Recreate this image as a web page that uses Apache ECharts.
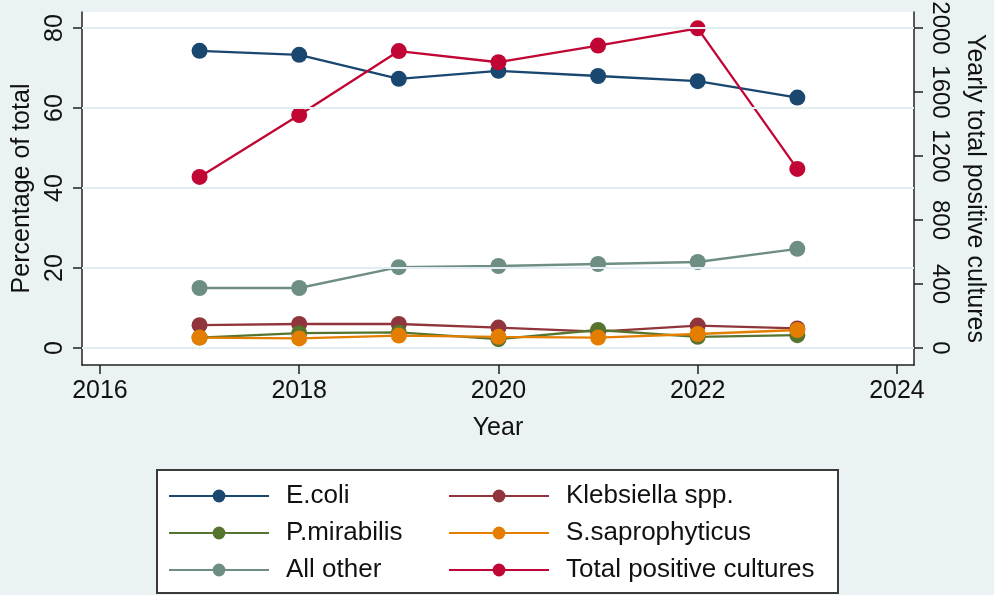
<!DOCTYPE html>
<html>
<head>
<meta charset="utf-8">
<script src="https://cdn.jsdelivr.net/npm/echarts@6/dist/echarts.min.js"></script>
<style>
html,body{margin:0;padding:0;background:#eaf2f3;}
#chart{width:994px;height:595px;}
</style>
</head>
<body>
<div id="chart"></div>
<script>
const years = [2017, 2018, 2019, 2020, 2021, 2022, 2023];
const ecoli = [74.3, 73.3, 67.3, 69.3, 68.0, 66.7, 62.6];
const klebsiella = [5.7, 6.0, 6.0, 5.1, 4.1, 5.6, 4.9];
const pmirabilis = [2.6, 3.7, 3.9, 2.2, 4.5, 2.8, 3.2];
const ssaprophyticus = [2.6, 2.4, 3.1, 2.8, 2.6, 3.5, 4.5];
const allOther = [15.0, 15.0, 20.2, 20.5, 21.0, 21.5, 24.8];
const totalPositive = [1069, 1456, 1856, 1786, 1890, 1998, 1119];

const xTicks = [2016, 2018, 2020, 2022, 2024];
const leftTicks = [0, 20, 40, 60, 80];
const rightTicks = [0, 400, 800, 1200, 1600, 2000];

const seriesNames = ['E.coli', 'Klebsiella spp.', 'P.mirabilis', 'S.saprophyticus', 'All other', 'Total positive cultures'];
const colors = ['#1a476f', '#90353b', '#55752f', '#e37e00', '#6e8e84', '#c10534'];

const FONT = 'Liberation Sans, Arial, sans-serif';
const pair = (vals) => years.map((y, i) => [y, vals[i]]);

function lineSeries(name, vals, color, yIdx) {
  return {
    name: name,
    type: 'line',
    yAxisIndex: yIdx,
    data: pair(vals),
    symbol: 'circle',
    symbolSize: 16,
    showSymbol: true,
    itemStyle: { color: color, opacity: 1 },
    lineStyle: { color: color, width: 2.3 },
    emphasis: { disabled: true },
    animation: false
  };
}

const chart = echarts.init(document.getElementById('chart'), null, { renderer: 'canvas' });

const axisLineStyle = { color: '#222', width: 1.5 };

chart.setOption({
  backgroundColor: '#eaf2f3',
  animation: false,
  textStyle: { fontFamily: FONT },
  grid: {
    left: 82, right: 80, top: 12, bottom: 230,
    containLabel: false,
    outerBoundsMode: 'none',
    show: true, backgroundColor: '#ffffff', borderWidth: 0
  },
  xAxis: {
    type: 'value',
    min: 2015.82, max: 2024.171,
    name: 'Year',
    nameLocation: 'middle',
    nameGap: 51,
    nameTextStyle: { fontSize: 25, color: '#111', fontFamily: FONT },
    axisLine: { show: true, onZero: false, lineStyle: axisLineStyle },
    axisTick: { show: true, length: 9, lineStyle: axisLineStyle, customValues: xTicks },
    axisLabel: { fontSize: 25, color: '#111', margin: 14, fontFamily: FONT, customValues: xTicks, formatter: (v) => String(v) },
    splitLine: { show: false }
  },
  yAxis: [
    {
      type: 'value',
      position: 'left',
      min: -4.25, max: 84,
      name: 'Percentage of total',
      nameLocation: 'middle',
      nameGap: 46,
      nameTextStyle: { fontSize: 25, color: '#111', fontFamily: FONT },
      axisLine: { show: true, onZero: false, lineStyle: axisLineStyle },
      axisTick: { show: true, length: 9, lineStyle: axisLineStyle, customValues: leftTicks },
      axisLabel: { fontSize: 25, color: '#111', margin: 14, rotate: 90, fontFamily: FONT, customValues: leftTicks, formatter: (v) => String(v) },
      splitLine: { show: false }
    },
    {
      type: 'value',
      position: 'right',
      min: -106.25, max: 2100,
      name: 'Yearly total positive cultures',
      nameLocation: 'middle',
      nameGap: 48,
      nameRotate: -90,
      nameTextStyle: { fontSize: 25, color: '#111', fontFamily: FONT },
      axisLine: { show: true, onZero: false, lineStyle: axisLineStyle },
      axisTick: { show: true, length: 9, lineStyle: axisLineStyle, customValues: rightTicks },
      axisLabel: { fontSize: 24, color: '#111', margin: 14, rotate: -90, fontFamily: FONT, customValues: rightTicks, formatter: (v) => String(v) },
      splitLine: { show: false }
    }
  ],
  legend: [
    {
      data: [seriesNames[0], seriesNames[2], seriesNames[4]],
      orient: 'vertical',
      left: 168, top: 483,
      padding: 0,
      itemWidth: 100, itemHeight: 16, itemGap: 11,
      selectedMode: false,
      textStyle: { fontSize: 26, color: '#111', fontFamily: FONT, padding: [0, 0, 0, 12] }
    },
    {
      data: [seriesNames[1], seriesNames[3], seriesNames[5]],
      orient: 'vertical',
      left: 448, top: 483,
      padding: 0,
      itemWidth: 100, itemHeight: 16, itemGap: 11,
      selectedMode: false,
      textStyle: { fontSize: 26, color: '#111', fontFamily: FONT, padding: [0, 0, 0, 12] }
    }
  ],
  graphic: [
    {
      type: 'rect', z: -1, silent: true,
      shape: { x: 157, y: 470, width: 681, height: 123 },
      style: { fill: '#ffffff', stroke: '#3a3a3a', lineWidth: 2 }
    }
  ],
  series: [
    {
      name: '__grid', type: 'line', yAxisIndex: 0, data: [], z: 1, silent: true,
      markLine: {
        silent: true, symbol: 'none', animation: false,
        label: { show: false },
        lineStyle: { color: '#e3eef0', width: 2, type: 'solid' },
        emphasis: { disabled: true },
        data: leftTicks.map(v => ({ yAxis: v }))
      }
    },
    lineSeries(seriesNames[0], ecoli, colors[0], 0),
    lineSeries(seriesNames[1], klebsiella, colors[1], 0),
    lineSeries(seriesNames[2], pmirabilis, colors[2], 0),
    lineSeries(seriesNames[3], ssaprophyticus, colors[3], 0),
    lineSeries(seriesNames[4], allOther, colors[4], 0),
    lineSeries(seriesNames[5], totalPositive, colors[5], 1)
  ]
});
</script>
</body>
</html>
